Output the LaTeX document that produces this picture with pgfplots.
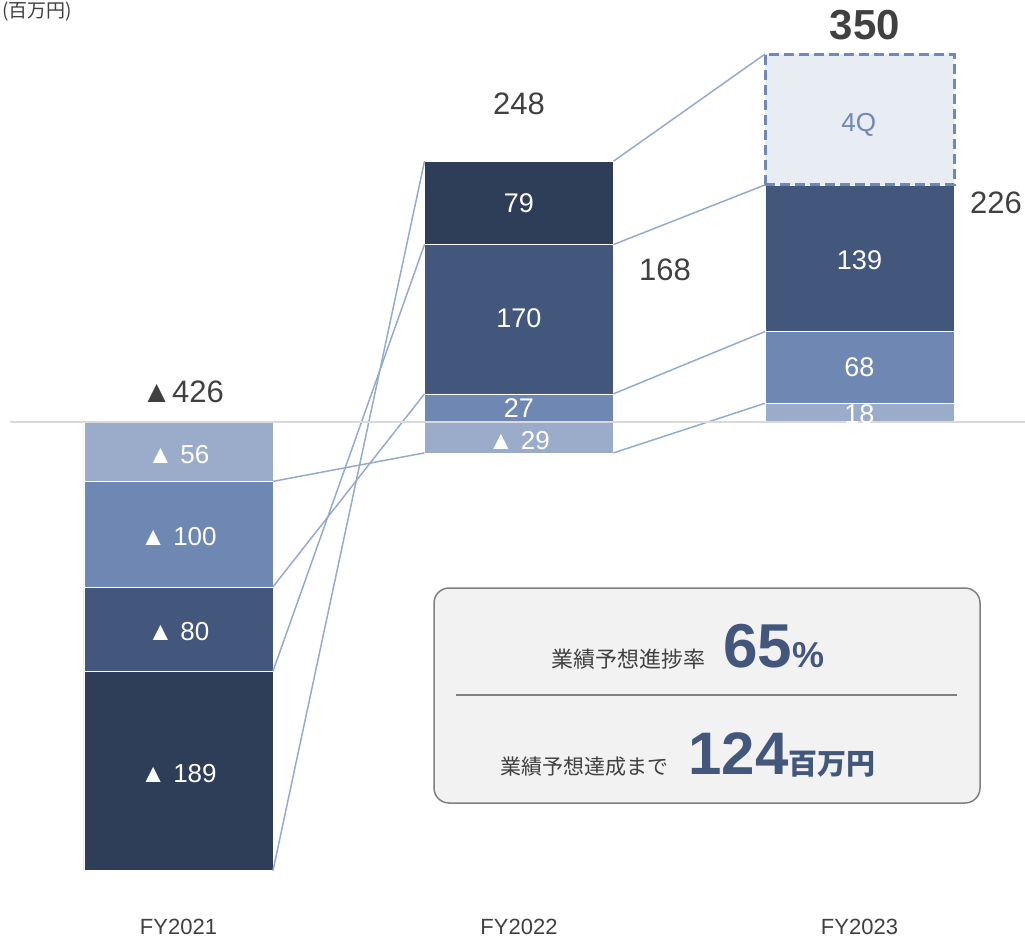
\documentclass[border=0pt]{standalone}
\usepackage{pgfplots}
\pgfplotsset{compat=1.18}
\usepackage{fontspec}
\setmainfont{Liberation Sans}
\newfontfamily\jp{Noto Sans CJK JP}
\definecolor{cA}{RGB}{155,172,203}
\definecolor{cB}{RGB}{110,135,179}
\definecolor{cC}{RGB}{67,87,125}
\definecolor{cD}{RGB}{46,61,88}
\definecolor{cE}{RGB}{232,236,243}
\definecolor{cEdge}{RGB}{111,136,182}
\definecolor{cLine}{RGB}{150,170,205}
\definecolor{tx}{RGB}{64,64,64}
\definecolor{boxfill}{RGB}{242,242,242}
\definecolor{boxedge}{RGB}{128,128,128}
\newcommand{\fs}[1]{\fontsize{#1}{#1}\selectfont}
\begin{document}
\begin{tikzpicture}
\pgfplotsset{base/.style={scale only axis, width=1025pt, height=939pt,
  xmin=-0.5242, xmax=2.4861, ymin=-489.8, ymax=400.3,
  hide axis, clip=false, at={(0,0)}, anchor=south west}}
% stacked bars: Q1..Q4 (negatives stack downward, positives upward)
\begin{axis}[base, ybar stacked, stack negative=separate, bar width=189pt]
\addplot[fill=cA, draw=white, line width=0.4pt] coordinates {(0,-56) (1,-29) (2,18)};
\addplot[fill=cB, draw=white, line width=0.4pt] coordinates {(0,-100) (1,27) (2,68)};
\addplot[fill=cC, draw=white, line width=0.4pt] coordinates {(0,-80) (1,141.5) (2,139)};
\addplot[fill=cD, draw=white, line width=0.4pt] coordinates {(0,-189) (1,79) (2,0)};
\end{axis}
% forecast 4Q (dashed)
\begin{axis}[base, ybar stacked, bar width=189pt]
\addplot[fill=none, draw=none] coordinates {(2,225)};
\addplot[fill=cE, draw=cEdge, line width=3pt, dash pattern=on 10pt off 5pt] coordinates {(2,124)};
\end{axis}
% connectors, zero line, labels
\begin{axis}[base]
\addplot[cLine, line width=1.5pt, no marks] coordinates {(0.2775,-56) (0.7225,-29)};
\addplot[cLine, line width=1.5pt, no marks] coordinates {(0.2775,-156) (0.7225,27)};
\addplot[cLine, line width=1.5pt, no marks] coordinates {(0.2775,-236) (0.7225,168.5)};
\addplot[cLine, line width=1.5pt, no marks] coordinates {(0.2775,-425) (0.7225,247.5)};
\addplot[cLine, line width=1.5pt, no marks] coordinates {(1.2775,-29) (1.7225,18)};
\addplot[cLine, line width=1.5pt, no marks] coordinates {(1.2775,27) (1.7225,86)};
\addplot[cLine, line width=1.5pt, no marks] coordinates {(1.2775,168.5) (1.7225,225)};
\addplot[cLine, line width=1.5pt, no marks] coordinates {(1.2775,247.5) (1.7225,349)};
\addplot[color={rgb,255:red,217;green,217;blue,217}, line width=2pt, no marks] coordinates {(-0.495,0) (2.4861,0)};
% unit
\node[anchor=west, text=tx, inner sep=0pt] at (axis cs:-0.5183,388.9) {\jp\fs{19}(百万円)};
% totals
\node[text=tx, inner sep=0pt] at (axis cs:0.012,29) {\fs{31}▲426};
\node[text=tx, inner sep=0pt] at (axis cs:1.0,301.7) {\fs{31}248};
\node[text=tx, inner sep=0pt] at (axis cs:1.4288,144.4) {\fs{31}168};
\node[text=tx, inner sep=0pt] at (axis cs:2.016,376.6) {\fs{42}\bfseries 350};
\node[text=tx, inner sep=0pt] at (axis cs:2.401,207.9) {\fs{31}226};
% segment labels
\node[text=white, inner sep=0pt] at (axis cs:0,-30.5) {\fs{26}▲ 56};
\node[text=white, inner sep=0pt] at (axis cs:0,-108.7) {\fs{26}▲ 100};
\node[text=white, inner sep=0pt] at (axis cs:0,-198.7) {\fs{26}▲ 80};
\node[text=white, inner sep=0pt] at (axis cs:0,-333) {\fs{26}▲ 189};
\node[text=white, inner sep=0pt] at (axis cs:1,207.8) {\fs{27}79};
\node[text=white, inner sep=0pt] at (axis cs:1,98.9) {\fs{27}170};
\node[text=white, inner sep=0pt] at (axis cs:1,13.1) {\fs{27}27};
\node[text=white, inner sep=0pt] at (axis cs:1,-17.3) {\fs{26}▲ 29};
\node[text=white, inner sep=0pt] at (axis cs:2,153.8) {\fs{27}139};
\node[text=white, inner sep=0pt] at (axis cs:2,51.8) {\fs{27}68};
\node[text=white, inner sep=0pt] at (axis cs:2,7.4) {\fs{27}18};
\node[text=cEdge, inner sep=0pt] at (axis cs:1.998,281.8) {\fs{26}4Q};
% category labels
\node[text=tx, inner sep=0pt] at (axis cs:0,-477.9) {\fs{22}FY2021};
\node[text=tx, inner sep=0pt] at (axis cs:1,-477.9) {\fs{22}FY2022};
\node[text=tx, inner sep=0pt] at (axis cs:2,-477.9) {\fs{22}FY2023};
% summary box
\draw[fill=boxfill, draw=boxedge, line width=1.5pt, rounded corners=15pt] (axis cs:0.7504,-157.1) rectangle (axis cs:2.3539,-360.9);
\draw[boxedge, line width=1.5pt] (axis cs:0.815,-258.5) -- (axis cs:2.286,-258.5);
\node[anchor=base, inner sep=0pt] at (axis cs:1.4963,-232.9) {{\jp\fs{22}\color{tx}業績予想進捗率}\hspace{18pt}{\color{cC}\bfseries\fs{62}65\fs{36}\%}};
\node[anchor=base, inner sep=0pt] at (axis cs:1.4963,-334.3) {{\jp\fs{21}\color{tx}業績予想達成まで}\hspace{20pt}{\color{cC}\bfseries\fs{60}124{\jp\fs{29}\bfseries 百万円}}};
\end{axis}
\pgfresetboundingbox
\path (0,0) rectangle (1025pt,939pt);
\end{tikzpicture}
\end{document}
